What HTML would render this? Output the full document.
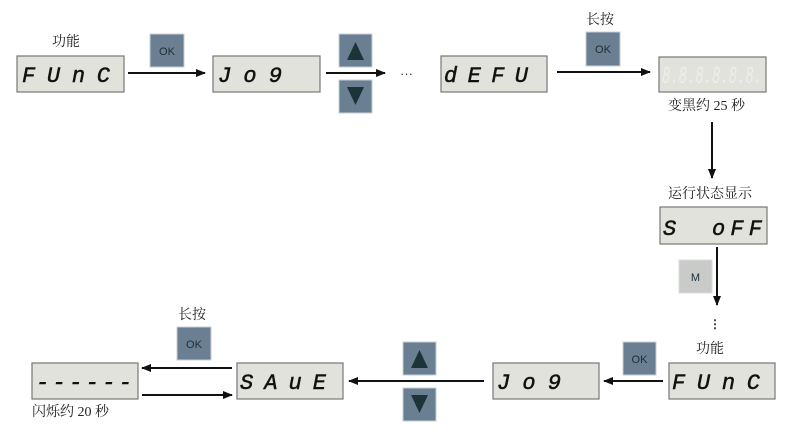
<!DOCTYPE html>
<html><head><meta charset="utf-8"><style>
html,body{margin:0;padding:0;background:#fff;width:798px;height:431px;overflow:hidden}
svg{display:block}
.cn{font-family:"Liberation Serif","Noto Serif CJK SC",serif;font-size:14px;fill:#222}
.seg{font-family:"Liberation Mono","DejaVu Sans Mono",monospace;font-size:22px;font-style:italic;fill:#111;stroke:#111;stroke-width:0.5}
.btn{fill:#6a7f92;stroke:#c8cfd6;stroke-width:1}
.ok{font-family:"Liberation Sans",sans-serif;font-size:11px;fill:#1e2e38;text-anchor:middle}
.box{fill:#e1e2dc;stroke:#777;stroke-width:1.2}
</style></head><body>
<svg width="798" height="431" viewBox="0 0 798 431">
<defs><marker id="a" markerWidth="10" markerHeight="8" refX="9" refY="4" orient="auto" markerUnits="userSpaceOnUse"><path d="M0,0 L10,4 L0,8 Z" fill="#111"/></marker></defs>
<g stroke="#111" stroke-width="2" fill="none" marker-end="url(#a)">
<line x1="128" y1="73" x2="205" y2="73"/>
<line x1="326" y1="73" x2="385" y2="73"/>
<line x1="557" y1="72" x2="650" y2="72"/>
<line x1="712" y1="122" x2="712" y2="178"/>
<line x1="717" y1="247" x2="717" y2="305"/>
<line x1="663" y1="381" x2="604" y2="381"/>
<line x1="484" y1="381" x2="349" y2="381"/>
<line x1="232" y1="368" x2="142" y2="368"/>
<line x1="142" y1="395" x2="232" y2="395"/>
</g>
<text x="400" y="78" style="font:13px 'Liberation Sans',sans-serif;fill:#333">···</text>
<text x="715" y="328" style="font:bold 12px 'Liberation Sans',sans-serif;fill:#333" text-anchor="middle">⋮</text>
<rect class="box" x="17" y="56" width="107" height="36"/><text class="seg" x="22" y="82" textLength="88" lengthAdjust="spacing">FUnC</text>
<rect class="box" x="213" y="56" width="107" height="36"/><text class="seg" x="218" y="82" textLength="64" lengthAdjust="spacing">Jo9</text>
<rect class="box" x="441" y="56" width="106" height="36"/><text class="seg" x="444" y="82" textLength="84" lengthAdjust="spacing">dEFU</text>
<rect class="box" x="659" y="57" width="107" height="35"/><text x="662" y="83" style="font:italic 24px 'Liberation Mono',monospace;fill:#eceee9" textLength="100" lengthAdjust="spacingAndGlyphs">8.8.8.8.8.8.</text>
<rect class="box" x="660" y="207" width="107" height="37"/><text class="seg" x="663" y="235">S</text><text class="seg" x="712" y="235" textLength="50" lengthAdjust="spacing">oFF</text>
<rect class="box" x="669" y="363" width="106" height="36"/><text class="seg" x="672" y="389" textLength="88" lengthAdjust="spacing">FUnC</text>
<rect class="box" x="493" y="363" width="106" height="36"/><text class="seg" x="497" y="389" textLength="64" lengthAdjust="spacing">Jo9</text>
<rect class="box" x="237" y="363" width="106" height="36"/><text class="seg" x="240" y="389" textLength="86" lengthAdjust="spacing">SAuE</text>
<rect class="box" x="32" y="363" width="106" height="36"/><text class="seg" x="36" y="389" textLength="96" lengthAdjust="spacing">------</text>
<rect class="btn" x="150" y="34" width="34" height="33"/><text class="ok" x="167" y="55">OK</text>
<rect class="btn" x="339" y="34" width="33" height="33"/><path d="M347,60 L364,60 L355.5,42 Z" fill="#1c3438"/>
<rect class="btn" x="339" y="80" width="33" height="33"/><path d="M347,87 L364,87 L355.5,105 Z" fill="#1c3438"/>
<rect class="btn" x="586" y="32" width="34" height="34"/><text class="ok" x="603" y="53">OK</text>
<rect x="679" y="260" width="33" height="33" fill="#c9cbc8" stroke="#ddd"/><text class="ok" x="695.5" y="281">M</text>
<rect class="btn" x="623" y="342" width="33" height="33"/><text class="ok" x="639.5" y="363">OK</text>
<rect class="btn" x="403" y="342" width="33" height="33"/><path d="M411,368 L428,368 L419.5,350 Z" fill="#1c3438"/>
<rect class="btn" x="403" y="388" width="33" height="33"/><path d="M411,395 L428,395 L419.5,413 Z" fill="#1c3438"/>
<rect class="btn" x="177" y="327" width="34" height="33"/><text class="ok" x="194" y="348">OK</text>
<text class="cn" x="52" y="46">功能</text>
<text class="cn" x="586" y="24">长按</text>
<text class="cn" x="668" y="110">变黑约 25 秒</text>
<text class="cn" x="668" y="198">运行状态显示</text>
<text class="cn" x="696" y="353">功能</text>
<text class="cn" x="178" y="319">长按</text>
<text class="cn" x="32" y="416">闪烁约 20 秒</text>
</svg>
</body></html>
